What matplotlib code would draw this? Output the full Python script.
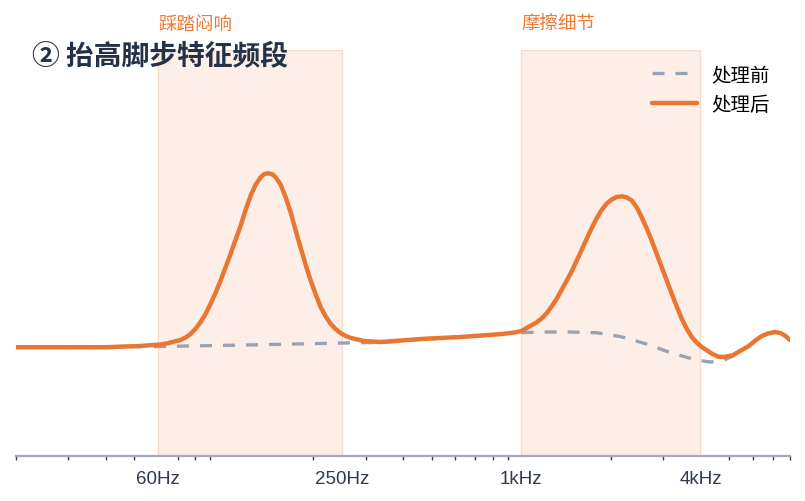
import matplotlib
matplotlib.use('Agg')
import matplotlib.pyplot as plt
from matplotlib.ticker import FixedLocator, NullFormatter

plt.rcParams['font.family'] = ['Noto Sans CJK SC', 'DejaVu Sans']

# 处理后 曲线 (频率 Hz, 增益 dB)
freq_after = [20, 30, 40, 52.3, 61.2, 64.6, 67.6, 71.4, 74.2, 77.2, 80.2, 83.4, 86.7, 90.1,
              93.7, 97.4, 101.3, 105.3, 109.4, 113.8, 118.3, 123.0, 127.8, 132.9, 136.4,
              140.7, 145.5, 149.3, 155.2, 161.3, 167.7, 174.3, 181.3, 188.4, 195.8, 203.6,
              211.7, 220.1, 228.8, 237.8, 247.2, 257.0, 267.2, 296, 337, 460, 627, 856, 950,
              1000, 1080, 1123, 1167, 1213, 1261, 1311, 1363, 1417, 1473, 1532, 1592, 1655,
              1720, 1789, 1859, 1933, 2009, 2089, 2171, 2257, 2347, 2440, 2536, 2636, 2741,
              2849, 2962, 3079, 3201, 3327, 3459, 3596, 3738, 3886, 4040, 4200, 4366, 4608,
              4800, 5140, 5510, 5818, 6146, 6438, 6744, 7120, 7458, 7754, 8000]
gain_after = [0.0, 0.0, 0.0, 0.09, 0.19, 0.27, 0.38, 0.5, 0.66, 0.91, 1.26, 1.72, 2.29, 2.98,
              3.74, 4.59, 5.51, 6.43, 7.4, 8.38, 9.47, 10.45, 11.21, 11.72, 11.93,
              12.0, 11.93, 11.72, 11.21, 10.34, 9.3, 8.04, 6.84, 5.67, 4.59, 3.63,
              2.75, 2.11, 1.6, 1.24, 0.96, 0.78, 0.64, 0.43, 0.36, 0.57, 0.71, 0.91, 1.02,
              1.12, 1.51, 1.7, 1.97, 2.32, 2.78, 3.3, 3.93, 4.55, 5.19, 5.93, 6.68, 7.44,
              8.18, 8.87, 9.44, 9.9, 10.18, 10.36, 10.41, 10.34, 10.13, 9.67, 8.98, 8.22, 7.37,
              6.45, 5.53, 4.62, 3.7, 2.82, 1.97, 1.28, 0.71, 0.32, 0.02, -0.21, -0.44, -0.66,
              -0.67, -0.55, -0.19, 0.09, 0.5, 0.78, 0.95, 1.05, 0.97, 0.75, 0.5]

# 处理前 曲线
freq_before = [20, 60, 123, 247, 340, 460, 730, 920, 1170, 1470, 1790, 2170, 2640,
               3100, 3860, 4330, 4810, 5140, 5510, 5818, 6146, 6438, 6744, 7120, 7458,
               7754, 8000]
gain_before = [0.0, 0.05, 0.16, 0.29, 0.33, 0.55, 0.78, 0.98, 1.05, 1.05, 1.0, 0.72, 0.22,
               -0.3, -0.88, -1.02, -0.88, -0.6, -0.19, 0.09, 0.5, 0.78, 0.95, 1.05, 0.97,
               0.75, 0.5]

bands = [(60, 250), (1000, 4000)]
band_labels = ['踩踏闷响', '摩擦细节']
tick_freqs = [60, 250, 1000, 4000]
tick_labels = ['60Hz', '250Hz', '1kHz', '4kHz']
minor_freqs = [20, 30, 40, 50, 70, 80, 90,
               200, 300, 400, 500, 600, 700, 800, 900,
               2000, 3000, 5000, 6000, 7000, 8000]

orange = '#e97632'
grey = '#9aa3b3'

fig = plt.figure(figsize=(8.05, 5.02), dpi=100)
ax = fig.add_axes([16 / 805, 45 / 502, 774 / 805, 406 / 502])

# 特征频段
for (lo, hi), lab in zip(bands, band_labels):
    ax.axvspan(lo, hi, facecolor='#fdefe8', edgecolor='#f7dccc', lw=1, zorder=0)
    ax.text(lo, 1.064, lab, transform=ax.get_xaxis_transform(), ha='left', va='center',
            fontsize=13.3, color='#ec7a35')

ax.plot(freq_before, gain_before, color=grey, lw=2.4, ls=(0, (3.6, 3.3)),
        label='处理前', zorder=2)
ax.plot(freq_after, gain_after, color=orange, lw=3.2, label='处理后', zorder=3,
        solid_capstyle='round', solid_joinstyle='round')

ax.set_xscale('log')
ax.set_xlim(20, 8000)
ax.set_ylim(-7.5, 20.5)

ax.xaxis.set_major_locator(FixedLocator(tick_freqs))
ax.set_xticklabels(tick_labels, fontsize=13.5, color='#2f3a4d', family=['Liberation Sans'])
ax.xaxis.set_minor_locator(FixedLocator(minor_freqs))
ax.xaxis.set_minor_formatter(NullFormatter())
ax.tick_params(axis='x', which='major', length=0, pad=10)
ax.tick_params(axis='x', which='minor', length=3, width=1, color='#3a3f4a')
ax.set_yticks([])

for s in ['top', 'left', 'right']:
    ax.spines[s].set_visible(False)
ax.spines['bottom'].set_color('#a3abb9')
ax.spines['bottom'].set_linewidth(1.6)

ax.legend(loc='upper right', bbox_to_anchor=(0.974, 0.965), frameon=False,
          fontsize=14, handlelength=2.3, handletextpad=0.75, labelspacing=0.45,
          borderaxespad=0, borderpad=0)

fig.text(32 / 805, 1 - 57 / 502, '② 抬高脚步特征频段', fontsize=20, fontweight='bold',
         color='#243248', ha='left', va='center')

fig.savefig('out.png', dpi=100)
